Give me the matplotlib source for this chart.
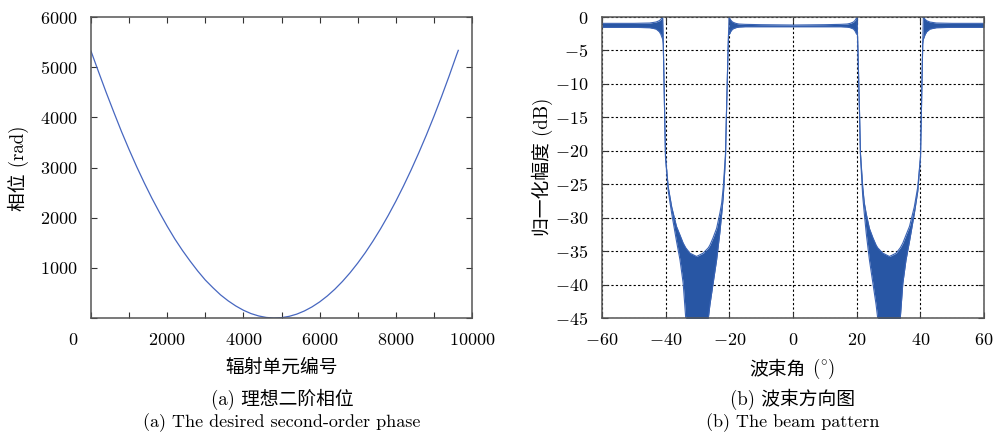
import matplotlib
matplotlib.use("Agg")
import matplotlib.pyplot as plt
from matplotlib.ticker import FixedLocator, FuncFormatter

plt.rcParams["font.family"] = ["cmr10", "Noto Sans CJK SC", "DejaVu Sans"]
plt.rcParams["mathtext.fontset"] = "cm"
plt.rcParams["axes.formatter.use_mathtext"] = True
plt.rcParams["axes.unicode_minus"] = True

# --- (a) ideal second-order phase -------------------------------------------
element_idx = [0, 200, 400, 600, 800, 1000, 1200, 1400, 1600, 1800, 2000, 2200, 2400,
               2600, 2800, 3000, 3200, 3400, 3600, 3800, 4000, 4200, 4400, 4600, 4800,
               5000, 5200, 5400, 5600, 5800, 6000, 6200, 6400, 6600, 6800, 7000, 7200,
               7400, 7600, 7800, 8000, 8200, 8400, 8600, 8800, 9000, 9200, 9400, 9600, 9640]
phase_rad = [5320, 4903, 4493, 4100, 3717, 3357, 3014, 2691, 2385, 2100, 1829, 1576, 1347,
             1136, 938, 757, 604, 461, 342, 240, 155, 88, 41, 11, 0,
             7, 33, 77, 140, 221, 320, 438, 574, 729, 902, 1094, 1303,
             1532, 1778, 2043, 2326, 2628, 2948, 3287, 3643, 4018, 4412, 4824, 5255, 5335]

# --- (b) beam pattern: upper / lower envelope of the (dense) pattern ---------
theta_deg = [-60, -50, -45, -43, -42, -41.5, -41.2, -40.95, -40.75, -40.5, -40.3, -40.05,
             -39.2, -38.1, -36.6, -35.5, -34.5, -33.7, -32.4, -30.3, -28.2, -26.6, -26.1,
             -25.1, -24.0, -23.0, -22.4, -21.9, -21.2, -20.9, -20.4, -20.25, -20.1,
             -19.9, -19.5, -19, -18, -17, -15, -10, 0, 10, 15, 17, 18, 19, 19.5, 19.9,
             20.1, 20.25, 20.4, 20.9, 21.2, 21.9, 22.4, 23.0, 24.0, 25.1, 26.1, 26.6,
             28.2, 30.3, 32.4, 33.7, 34.5, 35.5, 36.6, 38.1, 39.2, 40.05, 40.3, 40.5,
             40.75, 40.95, 41.2, 41.5, 42, 43, 45, 50, 60]
upper_db = [-0.95, -0.95, -0.9, -0.75, -0.55, -0.35, -0.15, -0.1, -4.0, -10, -15, -20.9,
            -25.4, -28.4, -31.3, -32.6, -33.8, -34.5, -35.3, -35.8, -35.3, -34.5, -34.1,
            -33.0, -31.6, -29.4, -27.8, -25.4, -20.4, -14.4, -5.0, -2.5, -0.05,
            -0.2, -0.5, -0.75, -0.95, -1.05, -1.1, -1.15, -1.2, -1.15, -1.1, -1.05, -0.95, -0.75, -0.5, -0.2,
            -0.05, -2.5, -5.0, -14.4, -20.4, -25.4, -27.8, -29.4, -31.6, -33.0, -34.1, -34.5,
            -35.3, -35.8, -35.3, -34.5, -33.8, -32.6, -31.3, -28.4, -25.4, -20.9, -15, -10,
            -4.0, -0.1, -0.15, -0.35, -0.55, -0.75, -0.9, -0.95, -0.95]
lower_db = [-1.55, -1.55, -1.6, -1.8, -2.2, -2.6, -3.0, -3.3, -4.0, -10, -15, -21.0,
            -26.0, -29.4, -33.5, -36.3, -39.8, -45.0, -52, -55, -52, -45.0, -43.0,
            -39.8, -36.3, -32.3, -29.4, -26.8, -20.9, -14.4, -5.0, -2.6, -2.6,
            -2.5, -2.1, -1.8, -1.6, -1.5, -1.45, -1.45, -1.45, -1.45, -1.45, -1.5, -1.6, -1.8, -2.1, -2.5,
            -2.6, -2.6, -5.0, -14.4, -20.9, -26.8, -29.4, -32.3, -36.3, -39.8, -43.0, -45.0,
            -52, -55, -52, -45.0, -39.8, -36.3, -33.5, -29.4, -26.0, -21.0, -15, -10,
            -4.0, -3.3, -3.0, -2.6, -2.2, -1.8, -1.6, -1.55, -1.55]

W, H = 994, 437
fig = plt.figure(figsize=(W / 100, H / 100), dpi=100)


def px(x, y):
    return x / W, 1 - y / H


def mfmt(v, pos=None):
    return f"${v:g}$"


tick_fs = 13
lab_fs = 13.5
spine_col = "#555555"

# ---------------- left panel -------------------------------------------------
ax1 = fig.add_axes([91 / W, 1 - 318 / H, 381 / W, 301 / H])
ax1.plot(element_idx, phase_rad, color="#4767c0", lw=0.9)
ax1.set_xlim(0, 10000)
ax1.set_ylim(0, 6000)
ax1.xaxis.set_major_locator(FixedLocator(range(0, 10001, 1000)))
ax1.yaxis.set_major_locator(FixedLocator(range(0, 6001, 1000)))
ax1.xaxis.set_major_formatter(FuncFormatter(lambda v, p: mfmt(v) if v > 0 and v % 2000 == 0 else ""))
ax1.yaxis.set_major_formatter(FuncFormatter(lambda v, p: mfmt(v) if v > 0 else ""))
ax1.tick_params(direction="in", top=True, right=True, length=4, width=0.8,
                labelsize=tick_fs, pad=10, color="#333333")
fig.text(*px(73, 340), "$0$", fontsize=tick_fs, ha="center", va="center")
fig.text(*px(282, 368), "辐射单元编号", fontsize=lab_fs, ha="center", va="center")
fig.text(*px(18, 168), "相位 (rad)", fontsize=lab_fs, ha="center", va="center", rotation=90)
fig.text(*px(282, 399), "(a) 理想二阶相位", fontsize=lab_fs, ha="center", va="center")
fig.text(*px(282, 423), "(a) The desired second-order phase", fontsize=13, ha="center", va="center")

# ---------------- right panel ------------------------------------------------
ax2 = fig.add_axes([602 / W, 1 - 318 / H, 382 / W, 301 / H])
ax2.set_axisbelow(True)
ax2.fill_between(theta_deg, lower_db, upper_db, color="#2856a4", lw=0)
ax2.plot(theta_deg, upper_db, color="#3a63b4", lw=0.8)
ax2.plot(theta_deg, lower_db, color="#3a63b4", lw=0.8)
ax2.set_xlim(-60, 60)
ax2.set_ylim(-45, 0)
ax2.xaxis.set_major_locator(FixedLocator(range(-60, 61, 20)))
ax2.yaxis.set_major_locator(FixedLocator(range(-45, 1, 5)))
ax2.xaxis.set_major_formatter(FuncFormatter(mfmt))
ax2.yaxis.set_major_formatter(FuncFormatter(mfmt))
ax2.grid(True, color="black", linestyle=(0, (2, 2)), lw=0.8)
ax2.tick_params(direction="in", top=True, right=True, length=4, width=0.8,
                labelsize=tick_fs, pad=10, color="#333333")
fig.text(*px(806, 369), "波束角", fontsize=lab_fs, ha="right", va="center",
         family=["Noto Sans CJK SC"])
fig.text(*px(812, 369), "$(^{\\circ})$", fontsize=lab_fs, ha="left", va="center")
fig.text(*px(542, 167), "归一化幅度 (dB)", fontsize=lab_fs, ha="center", va="center", rotation=90)
fig.text(*px(793, 399), "(b) 波束方向图", fontsize=lab_fs, ha="center", va="center")
fig.text(*px(793, 423), "(b) The beam pattern", fontsize=13, ha="center", va="center")

for ax in (ax1, ax2):
    for s in ax.spines.values():
        s.set_color(spine_col)
        s.set_linewidth(1.1)

fig.savefig("out.png", dpi=100)
